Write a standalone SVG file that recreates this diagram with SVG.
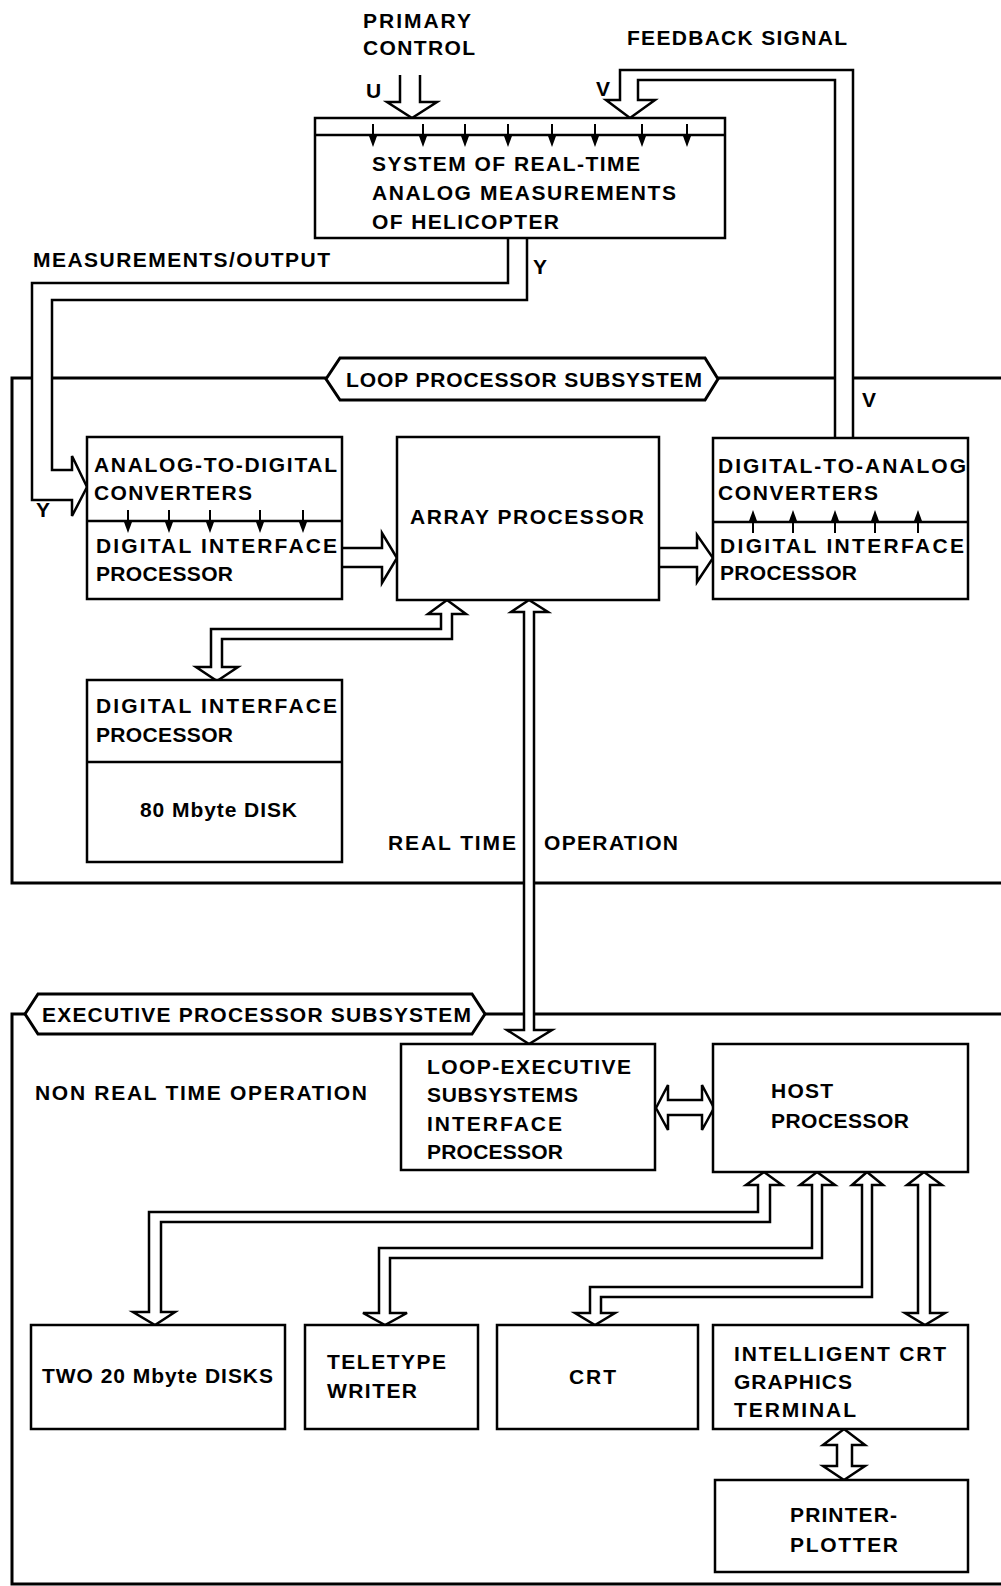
<svg xmlns="http://www.w3.org/2000/svg" width="1001" height="1586" viewBox="0 0 1001 1586">
<style>
text{font-family:"Liberation Sans",Arial,sans-serif;font-weight:bold;font-size:21px;fill:#000}
.box{fill:#fff;stroke:#000;stroke-width:2.5}
.div{stroke:#000;stroke-width:2.5;fill:none}
.frame{fill:none;stroke:#000;stroke-width:3}
.pipe{fill:#fff;stroke:#000;stroke-width:2.5;stroke-linejoin:miter}
.tag{fill:#fff;stroke:#000;stroke-width:3}
</style>
<defs>
<g id="sd"><line x1="0" y1="-11" x2="0" y2="4" stroke="#000" stroke-width="2"/><polygon points="-4,1 4,1 0,12" fill="#000"/></g>
<g id="su"><line x1="0" y1="11" x2="0" y2="-4" stroke="#000" stroke-width="2"/><polygon points="-4,-1 4,-1 0,-12" fill="#000"/></g>
</defs>
<rect width="1001" height="1586" fill="#fff"/>

<g id="frames">
<path class="frame" d="M1001,378 H12 V883 H1001"/>
<path class="frame" d="M1001,1014 H12 V1584 H1001"/>
</g>

<g id="connectors">
<path class="pipe" d="M400,75 V102 H387 L412,118 L437,102 H420 V75"/>
<path class="pipe" d="M835,438 V80 H638 V100 H655 L630,118 L606,100 H620 V70 H853 V438"/>
<path class="pipe" d="M508,239 V283 H32 V500 H72 V516 L87,487 L72,456 V470 H52 V300 H527 V239"/>
<path class="pipe" d="M342,548 H382 V533 L397,558 L382,583 V567 H342"/>
<path class="pipe" d="M659,548 H697 V535 L713,558 L697,582 V567 H659"/>
<path class="pipe" d="M441,614 H428 L447,600 L466,614 H452 V639 H222 V667 H238 L217,681 L196,667 H211 V629 H441 Z"/>
<path class="pipe" d="M524,612 H511 L529,600 L548,612 H534 V1030 H552 L529,1044 L507,1030 H524 Z"/>
<path class="pipe" d="M656,1108 L668,1085 V1100 H702 V1085 L714,1108 L702,1130 V1115 H668 V1130 Z"/>
<path class="pipe" d="M764,1172 L782,1185 H770 V1222 H161 V1312 H175 L155,1325 L133,1312 H149 V1212 H758 V1185 H746 Z"/>
<path class="pipe" d="M817,1172 L835,1185 H822 V1258 H390 V1313 H407 L385,1325 L363,1313 H379 V1248 H812 V1185 H800 Z"/>
<path class="pipe" d="M867,1172 L883,1185 H872 V1297 H601 V1313 H615 L595,1325 L575,1313 H590 V1287 H862 V1185 H852 Z"/>
<path class="pipe" d="M924,1172 L942,1185 H930 V1313 H945 L925,1325 L905,1313 H918 V1185 H907 Z"/>
<path class="pipe" d="M844,1429 L865,1445 H852 V1466 H865 L844,1480 L823,1466 H837 V1445 H823 Z"/>
</g>

<g id="labels">
<text x="363" y="28" textLength="108">PRIMARY</text>
<text x="363" y="55" textLength="112">CONTROL</text>
<text x="627" y="45" textLength="220">FEEDBACK SIGNAL</text>
<text x="366" y="98">U</text>
<text x="596" y="96">V</text>
<text x="33" y="267" textLength="297">MEASUREMENTS/OUTPUT</text>
<text x="533" y="274">Y</text>
<text x="862" y="407">V</text>
<text x="36" y="517">Y</text>
<text x="388" y="850" textLength="128">REAL TIME</text>
<text x="544" y="850" textLength="134">OPERATION</text>
<text x="35" y="1100" textLength="332">NON REAL TIME OPERATION</text>
</g>

<g id="loop-tag">
<polygon class="tag" points="326,379 340,358 705,358 718,379 705,400 340,400"/>
<text x="346" y="387" textLength="356">LOOP PROCESSOR SUBSYSTEM</text>
</g>
<g id="exec-tag">
<polygon class="tag" points="25,1014 38,994 472,994 485,1014 472,1034 38,1034"/>
<text x="42" y="1022" textLength="429">EXECUTIVE PROCESSOR SUBSYSTEM</text>
</g>

<g id="helicopter">
<rect class="box" x="315" y="118" width="410" height="120"/>
<line class="div" x1="315" y1="135" x2="725" y2="135"/>
<use href="#sd" x="373" y="135"/><use href="#sd" x="423" y="135"/><use href="#sd" x="465" y="135"/><use href="#sd" x="508" y="135"/>
<use href="#sd" x="552" y="135"/><use href="#sd" x="595" y="135"/><use href="#sd" x="642" y="135"/><use href="#sd" x="687" y="135"/>
<text x="372" y="171" textLength="268">SYSTEM OF REAL-TIME</text>
<text x="372" y="200" textLength="304">ANALOG MEASUREMENTS</text>
<text x="372" y="229" textLength="187">OF HELICOPTER</text>
</g>

<g id="adc">
<rect class="box" x="87" y="437" width="255" height="162"/>
<line class="div" x1="87" y1="521" x2="342" y2="521"/>
<use href="#sd" x="128" y="521"/><use href="#sd" x="169" y="521"/><use href="#sd" x="210" y="521"/><use href="#sd" x="260" y="521"/><use href="#sd" x="303" y="521"/>
<text x="94" y="472" textLength="243">ANALOG-TO-DIGITAL</text>
<text x="94" y="500" textLength="158">CONVERTERS</text>
<text x="96" y="553" textLength="241">DIGITAL INTERFACE</text>
<text x="96" y="581" textLength="137">PROCESSOR</text>
</g>

<g id="array">
<rect class="box" x="397" y="437" width="262" height="163"/>
<text x="410" y="524" textLength="234">ARRAY PROCESSOR</text>
</g>

<g id="dac">
<rect class="box" x="713" y="438" width="255" height="161"/>
<line class="div" x1="713" y1="522" x2="968" y2="522"/>
<use href="#su" x="753" y="522"/><use href="#su" x="793" y="522"/><use href="#su" x="835" y="522"/><use href="#su" x="875" y="522"/><use href="#su" x="918" y="522"/>
<text x="718" y="473" textLength="248">DIGITAL-TO-ANALOG</text>
<text x="718" y="500" textLength="160">CONVERTERS</text>
<text x="720" y="553" textLength="244">DIGITAL INTERFACE</text>
<text x="720" y="580" textLength="137">PROCESSOR</text>
</g>

<g id="disk80">
<rect class="box" x="87" y="680" width="255" height="182"/>
<line class="div" x1="87" y1="762" x2="342" y2="762"/>
<text x="96" y="713" textLength="241">DIGITAL INTERFACE</text>
<text x="96" y="742" textLength="137">PROCESSOR</text>
<text x="140" y="817" textLength="157">80 Mbyte DISK</text>
</g>

<g id="loop-exec">
<rect class="box" x="401" y="1044" width="254" height="126"/>
<text x="427" y="1074" textLength="204">LOOP-EXECUTIVE</text>
<text x="427" y="1102" textLength="151">SUBSYSTEMS</text>
<text x="427" y="1131" textLength="135">INTERFACE</text>
<text x="427" y="1159" textLength="136">PROCESSOR</text>
</g>

<g id="host">
<rect class="box" x="713" y="1044" width="255" height="128"/>
<text x="771" y="1098" textLength="62">HOST</text>
<text x="771" y="1128" textLength="138">PROCESSOR</text>
</g>

<g id="disks20">
<rect class="box" x="31" y="1325" width="254" height="104"/>
<text x="42" y="1383" textLength="231">TWO 20 Mbyte DISKS</text>
</g>
<g id="teletype">
<rect class="box" x="305" y="1325" width="173" height="104"/>
<text x="327" y="1369" textLength="119">TELETYPE</text>
<text x="327" y="1398" textLength="90">WRITER</text>
</g>
<g id="crt">
<rect class="box" x="497" y="1325" width="201" height="104"/>
<text x="569" y="1384" textLength="47">CRT</text>
</g>
<g id="graphics">
<rect class="box" x="713" y="1325" width="255" height="104"/>
<text x="734" y="1361" textLength="212">INTELLIGENT CRT</text>
<text x="734" y="1389" textLength="118">GRAPHICS</text>
<text x="734" y="1417" textLength="122">TERMINAL</text>
</g>
<g id="printer">
<rect class="box" x="715" y="1480" width="253" height="92"/>
<text x="790" y="1522" textLength="107">PRINTER-</text>
<text x="790" y="1552" textLength="108">PLOTTER</text>
</g>
</svg>
